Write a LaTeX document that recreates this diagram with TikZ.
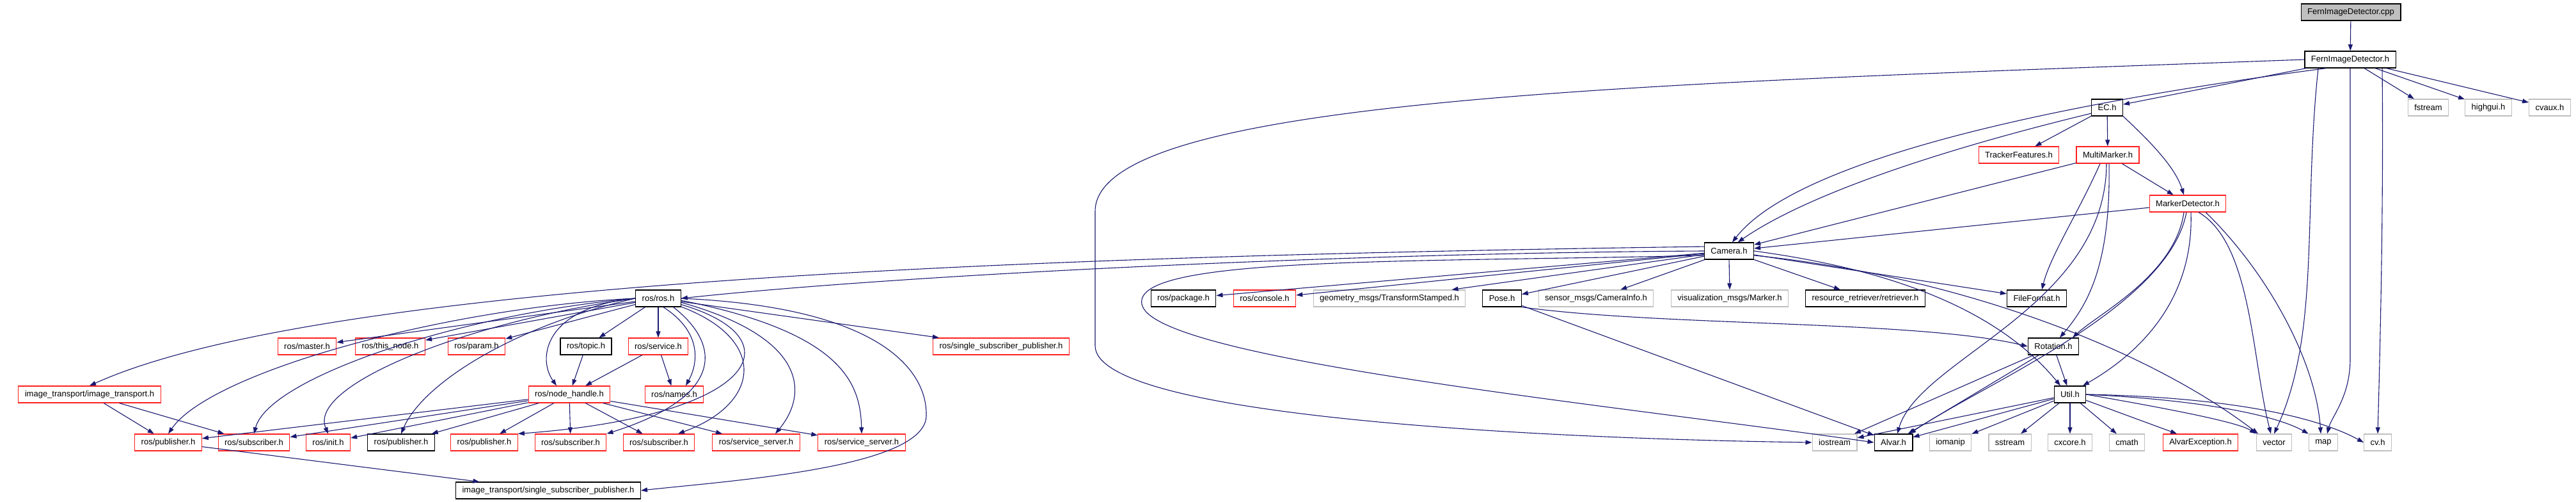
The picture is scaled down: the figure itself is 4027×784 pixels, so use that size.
\documentclass[tikz,border=0pt]{standalone}
\usepackage{fontspec}
\setmainfont{Liberation Sans}
\usetikzlibrary{arrows.meta}
\definecolor{edgeblue}{HTML}{191970}
\definecolor{greyline}{HTML}{BFBFBF}
\definecolor{redline}{HTML}{FF2020}
\tikzset{
  hfile/.style={draw, rectangle, minimum height=26pt, inner xsep=10pt, inner ysep=0pt,
    line width=1.2pt, fill=white, font=\fontsize{13}{15}\selectfont},
  docfile/.style={hfile, draw=black},
  redfile/.style={hfile, draw=redline},
  extfile/.style={hfile, draw=greyline},
  rootfile/.style={hfile, draw=black, fill=greyline},
  dep/.style={draw=edgeblue, line width=1.1pt, -{Triangle[length=10pt,width=7pt]}}
}

\begin{document}
\begin{tikzpicture}[x=1pt,y=-1pt]
\useasboundingbox (0,0) rectangle (4027,784);
\node[rootfile] (cpp) at (3675,19) {FernImageDetector.cpp};
\node[docfile] (fidh) at (3674,93) {FernImageDetector.h};
\node[docfile] (ech) at (3294,168) {EC.h};
\node[extfile] (fstream) at (3796,168) {fstream};
\node[extfile] (highgui) at (3890,168) {highgui.h};
\node[extfile] (cvaux) at (3986,168) {cvaux.h};
\node[redfile] (trackerf) at (3156,242) {TrackerFeatures.h};
\node[redfile] (multim) at (3295,242) {MultiMarker.h};
\node[redfile] (markerd) at (3420,318) {MarkerDetector.h};
\node[docfile] (camera) at (2703,392) {Camera.h};
\node[docfile] (rosros) at (1029,466) {ros/ros.h};
\node[docfile] (package) at (1850,466) {ros/package.h};
\node[redfile] (console) at (1977,466) {ros/console.h};
\node[extfile] (tfstamped) at (2172,466) {geometry\_msgs/TransformStamped.h};
\node[docfile] (pose) at (2348,466) {Pose.h};
\node[extfile] (caminfo) at (2495,466) {sensor\_msgs/CameraInfo.h};
\node[extfile] (vismarker) at (2704,466) {visualization\_msgs/Marker.h};
\node[docfile] (retriever) at (2916,466) {resource\_retriever/retriever.h};
\node[docfile] (fileformat) at (3184,466) {FileFormat.h};
\node[redfile] (master) at (480,541) {ros/master.h};
\node[redfile] (thisnode) at (610,541) {ros/this\_node.h};
\node[redfile] (param) at (745,541) {ros/param.h};
\node[docfile] (topic) at (916,541) {ros/topic.h};
\node[redfile] (service) at (1029,541) {ros/service.h};
\node[redfile] (rosssp) at (1565,541) {ros/single\_subscriber\_publisher.h};
\node[docfile] (rotation) at (3210,541) {Rotation.h};
\node[redfile] (ittransport) at (140,616) {image\_transport/image\_transport.h};
\node[redfile] (nodehandle) at (890,616) {ros/node\_handle.h};
\node[redfile] (names) at (1054,616) {ros/names.h};
\node[docfile] (util) at (3236,616) {Util.h};
\node[redfile] (publisherL) at (263,691) {ros/publisher.h};
\node[redfile] (subscriberL) at (397,691) {ros/subscriber.h};
\node[redfile] (init) at (513,691) {ros/init.h};
\node[docfile] (publisherB) at (627,691) {ros/publisher.h};
\node[redfile] (publisherR) at (757,691) {ros/publisher.h};
\node[redfile] (subscriberA) at (892,691) {ros/subscriber.h};
\node[redfile] (subscriberB) at (1030,691) {ros/subscriber.h};
\node[redfile] (serverA) at (1182,691) {ros/service\_server.h};
\node[redfile] (serverB) at (1347,691) {ros/service\_server.h};
\node[extfile] (iostream) at (2868,691) {iostream};
\node[docfile] (alvar) at (2960,691) {Alvar.h};
\node[extfile] (iomanip) at (3049,691) {iomanip};
\node[extfile] (sstream) at (3142,691) {sstream};
\node[extfile] (cxcore) at (3236,691) {cxcore.h};
\node[extfile] (cmath) at (3325,691) {cmath};
\node[redfile] (alvarexc) at (3440,691) {AlvarException.h};
\node[extfile] (vector) at (3555,691) {vector};
\node[extfile] (map) at (3632,691) {map};
\node[extfile] (cvh) at (3717,691) {cv.h};
\node[docfile] (itssp) at (857,766) {image\_transport/single\_subscriber\_publisher.h};

\draw[dep] (cpp) -- (fidh);
\draw[dep] (fidh) -- (fstream);
\draw[dep] (fidh) -- (highgui);
\draw[dep] (fidh) -- (cvaux);
\draw[dep] (fidh) -- (ech);
\draw[dep] (fidh.200) .. controls (3150,170) and (2800,260) .. (camera.70);
\draw[dep] (fidh.west) .. controls (2600,130) and (1712,150) .. (1712,330) -- (1712,540) .. controls (1712,650) and (2400,685) .. (iostream.west);
\draw[dep] ([xshift=-50pt]fidh.south) .. controls (3600,330) and (3628,520) .. (vector.north);
\draw[dep] (fidh.south) -- (3674,560) .. controls (3674,620) and (3645,650) .. ([xshift=6pt]map.north);
\draw[dep] ([xshift=50pt]fidh.south) .. controls (3726,300) and (3722,500) .. (cvh.north);
\draw[dep] (ech) -- (trackerf);
\draw[dep] (ech) -- (multim);
\draw[dep] (ech.200) .. controls (3050,230) and (2830,300) .. (camera.45);
\draw[dep] (ech.south east) .. controls (3360,220) and (3400,260) .. ([xshift=-6pt]markerd.north);
\draw[dep] (multim) -- (markerd);
\draw[dep] (multim) -- (camera);
\draw[dep] ([xshift=-12pt]multim.south) .. controls (3250,330) and (3205,400) .. ([xshift=8pt]fileformat.north);
\draw[dep] ([xshift=2pt]multim.south) .. controls (3300,420) and (3260,480) .. ([xshift=10pt]rotation.north);
\draw[dep] ([xshift=-2pt]multim.south) .. controls (3292,480) and (3000,560) .. ([xshift=6pt]alvar.north);
\draw[dep] (markerd) -- (camera);
\draw[dep] ([xshift=-6pt]markerd.south) .. controls (3400,430) and (3280,490) .. ([xshift=30pt]rotation.north);
\draw[dep] ([xshift=-2pt]markerd.south) .. controls (3390,480) and (3100,600) .. ([xshift=25pt]alvar.north);
\draw[dep] ([xshift=5pt]markerd.south) .. controls (3430,480) and (3330,560) .. ([xshift=20pt]util.north);
\draw[dep] ([xshift=17pt]markerd.south) .. controls (3520,380) and (3520,560) .. ([xshift=-5pt]vector.north);
\draw[dep] ([xshift=28pt]markerd.south) .. controls (3540,420) and (3620,560) .. ([xshift=-4pt]map.north);
\draw[dep] (camera.west) .. controls (2100,395) and (1400,430) .. (rosros.east);
\draw[dep] (camera.170) .. controls (1600,400) and (500,440) .. (ittransport.north);
\draw[dep] (camera) -- (package);
\draw[dep] (camera) -- (console);
\draw[dep] (camera) -- (tfstamped);
\draw[dep] (camera) -- (pose);
\draw[dep] (camera) -- (caminfo);
\draw[dep] (camera.south) -- (vismarker.north);
\draw[dep] (camera) -- (retriever);
\draw[dep] (camera) -- (fileformat);
\draw[dep] (camera.east) .. controls (2950,420) and (3120,480) .. ([xshift=-15pt]util.north);
\draw[dep] (camera.-10) .. controls (3050,430) and (3350,540) .. ([xshift=-25pt]vector.north);
\draw[dep] (camera.190) .. controls (2200,410) and (1770,400) .. (1785,475) .. controls (1800,560) and (2500,630) .. (alvar.west);
\draw[dep] (pose) -- (alvar);
\draw[dep] (pose.south east) .. controls (2600,510) and (3000,500) .. (rotation.west);
\draw[dep] (rotation) -- (util);
\draw[dep] (rotation) -- (alvar);
\draw[dep] (rotation) -- (iostream);
\draw[dep] (util) -- (iostream);
\draw[dep] (util) -- (alvar);
\draw[dep] (util) -- (iomanip);
\draw[dep] (util) -- (sstream);
\draw[dep] (util) -- (cxcore);
\draw[dep] (util) -- (cmath);
\draw[dep] (util) -- (alvarexc);
\draw[dep] (util.east) .. controls (3400,640) and (3500,660) .. (vector.north west);
\draw[dep] (util.east) .. controls (3450,625) and (3560,650) .. (map.north west);
\draw[dep] (util.east) .. controls (3480,620) and (3620,650) .. (cvh.west);
\draw[dep] (rosros) -- (master);
\draw[dep] (rosros) -- (thisnode);
\draw[dep] (rosros) -- (param);
\draw[dep] (rosros) -- (topic);
\draw[dep] (rosros) -- (service);
\draw[dep] (rosros) -- (rosssp);
\draw[dep] (rosros.-60) .. controls (1100,520) and (1090,570) .. ([xshift=18pt]names.north);
\draw[dep] (rosros.west) .. controls (850,480) and (840,560) .. ([xshift=-20pt]nodehandle.north);
\draw[dep] (rosros.west) .. controls (700,480) and (330,580) .. (publisherL.north);
\draw[dep] (rosros.west) .. controls (720,490) and (420,590) .. (subscriberL.north);
\draw[dep] (rosros.west) .. controls (740,500) and (480,600) .. (init.north);
\draw[dep] (rosros.west) .. controls (800,510) and (660,600) .. (publisherB.north);
\draw[dep] (rosros.-30) .. controls (1130,540) and (1130,620) .. (subscriberA.north east);
\draw[dep] (rosros.-20) .. controls (1200,530) and (1190,630) .. ([xshift=30pt]subscriberB.north);
\draw[dep] (rosros.-15) .. controls (1250,530) and (1180,650) .. (publisherR.north east);
\draw[dep] (rosros.-10) .. controls (1270,530) and (1260,620) .. ([xshift=30pt]serverA.north);
\draw[dep] (rosros.-5) .. controls (1320,520) and (1345,600) .. (serverB.north);
\draw[dep] (rosros.east) .. controls (1380,480) and (1450,580) .. (1448,650) .. controls (1445,730) and (1150,750) .. (itssp.east);
\draw[dep] (topic) -- (nodehandle);
\draw[dep] (service) -- (nodehandle);
\draw[dep] (service) -- (names);
\draw[dep] (nodehandle) -- (publisherL);
\draw[dep] (nodehandle) -- (subscriberL);
\draw[dep] (nodehandle) -- (init);
\draw[dep] (nodehandle) -- (publisherB);
\draw[dep] (nodehandle) -- (publisherR);
\draw[dep] (nodehandle) -- (subscriberA);
\draw[dep] (nodehandle) -- (subscriberB);
\draw[dep] (nodehandle) -- (serverA);
\draw[dep] (nodehandle) -- (serverB);
\draw[dep] (ittransport) -- (publisherL);
\draw[dep] (ittransport) -- (subscriberL);
\draw[dep] (publisherL) -- (itssp);
\end{tikzpicture}
\end{document}
